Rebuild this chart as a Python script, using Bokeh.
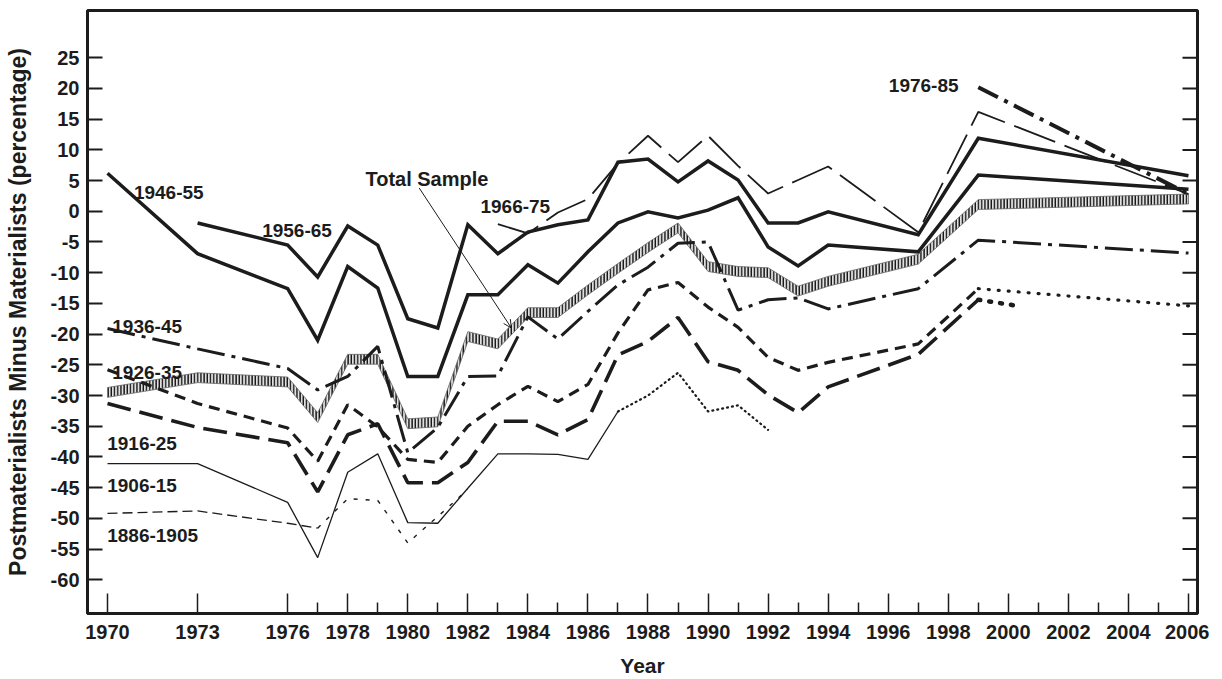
from bokeh.plotting import figure
from bokeh.models import Range1d, FixedTicker, Arrow, OpenHead
from bokeh.core.properties import value
from bokeh.embed import file_html
from bokeh.resources import INLINE

# ---------------- data ----------------
survey_years = [1970, 1973, 1976, 1977, 1978, 1979, 1980, 1981, 1982, 1983, 1984, 1985,
                1986, 1987, 1988, 1989, 1990, 1991, 1992, 1993, 1994, 1997, 1999, 2006]

total_sample = [-29.5, -27.1, -27.8, -33.6, -24.1, -24.1, -34.6, -34.3, -20.4, -21.6, -16.5, -16.5,
                -12.8, -9.3, -5.9, -2.7, -9.0, -9.8, -10.0, -13.0, -11.4, -7.8, 1.1, 2.0]

cohort_1946_55 = [6.2, -6.9, -12.6, -21.0, -9.0, -12.5, -26.9, -26.9, -13.6, -13.6, -8.7, -11.7,
                  -6.6, -1.9, -0.1, -1.1, 0.2, 2.2, -5.8, -8.9, -5.5, -6.6, 5.9, 3.6]

cohort_1936_45 = [-19.1, -22.4, -25.6, -29.1, -26.9, -22.0, -39.3, -35.2, -26.9, -26.8, -17.2, -20.8,
                  -16.3, -12.0, -9.1, -5.2, -5.0, -16.1, -14.4, -14.1, -15.9, -12.6, -4.7, -6.8]

years_1956_65 = survey_years[1:]
cohort_1956_65 = [-1.9, -5.5, -10.7, -2.4, -5.5, -17.5, -19.0, -2.2, -6.9, -3.4, -2.2, -1.4,
                  8.0, 8.5, 4.8, 8.2, 5.1, -1.9, -1.9, -0.1, -3.8, 11.9, 5.8]

years_1966_75 = [1983, 1984, 1985, 1986, 1987, 1988, 1989, 1990, 1991, 1992, 1993, 1994, 1997, 1999, 2006]
cohort_1966_75 = [-2.1, -3.6, -0.2, 2.0, 7.8, 12.3, 8.0, 12.3, 7.4, 2.9, 5.1, 7.3, -3.4, 16.2, 2.8]

years_1976_85 = [1999, 2006]
cohort_1976_85 = [20.2, 2.8]

years_to_1999 = survey_years[:23]
cohort_1926_35 = [-25.8, -31.3, -35.3, -40.7, -31.5, -35.1, -40.4, -40.9, -35.0, -31.5, -28.5, -31.0,
                  -28.2, -19.8, -12.8, -11.6, -15.6, -18.9, -23.8, -25.9, -24.6, -21.6, -12.6]
years_1926_35_ext = [1999, 2006]
cohort_1926_35_ext = [-12.6, -15.4]

cohort_1916_25 = [-31.3, -35.2, -37.7, -45.7, -36.4, -34.6, -44.2, -44.2, -40.9, -34.2, -34.2, -36.4,
                  -33.9, -23.4, -21.2, -17.3, -24.5, -25.9, -29.9, -32.8, -28.6, -23.3, -14.4]
years_1916_25_ext = [1999, 2000.3]
cohort_1916_25_ext = [-14.4, -15.4]

years_1906_15 = survey_years[:14]
cohort_1906_15 = [-41.1, -41.1, -47.4, -56.4, -42.5, -39.5, -50.7, -50.8, -45.1, -39.5, -39.5, -39.6,
                  -40.4, -32.6]
years_1906_15_ext = [1987, 1988, 1989, 1990, 1991, 1992]
cohort_1906_15_ext = [-32.6, -30.0, -26.3, -32.6, -31.6, -35.6]

years_1886_1905 = survey_years[:9]
cohort_1886_1905 = [-49.2, -48.8, -50.8, -51.6, -46.8, -47.1, -54.0, -49.7, -45.3]

x_major_ticks = [1970, 1973, 1976] + list(range(1978, 2007, 2))
x_minor_ticks = list(range(1977, 2006, 2))
y_ticks = list(range(-60, 30, 5))

label_texts = ["1946-55", "1956-65", "1966-75", "1976-85", "1936-45", "1926-35",
               "1916-25", "1906-15", "1886-1905"]
label_x = [1970.88, 1975.15, 1982.42, 1996.02, 1970.16, 1970.16, 1969.99, 1969.99, 1969.99]
label_y = [3.1, -3.1, 0.7, 20.5, -18.8, -26.2, -37.8, -44.6, -52.8]

# ---------------- figure ----------------
FONT = "Liberation Sans"
INK = "#1c1c1c"
X0, X1 = 1969.334, 2006.30
Y0, Y1 = -65.5, 32.7
FRAME_W, FRAME_H = 1110, 603

p = figure(frame_width=FRAME_W, frame_height=FRAME_H,
           x_range=Range1d(X0, X1), y_range=Range1d(Y0, Y1),
           output_backend="svg", toolbar_location=None,
           min_border_left=87, min_border_right=12, min_border_top=10, min_border_bottom=60,
           x_axis_label="Year",
           y_axis_label="Postmaterialists Minus Materialists (percentage)")
p.xgrid.visible = False
p.ygrid.visible = False
p.outline_line_color = INK
p.outline_line_width = 3
p.background_fill_color = "white"
p.border_fill_color = "white"

xa = p.xaxis[0]
xa.ticker = FixedTicker(ticks=x_major_ticks, minor_ticks=x_minor_ticks)
xa.major_label_overrides = {t: str(t) for t in x_major_ticks}
xa.major_tick_in = 20
xa.major_tick_out = 0
xa.minor_tick_in = 11
xa.minor_tick_out = 0
xa.major_tick_line_width = 1.5
xa.minor_tick_line_width = 1.5
xa.major_tick_line_color = INK
xa.minor_tick_line_color = INK
xa.axis_line_width = 3
xa.axis_line_color = INK
xa.major_label_text_font = FONT
xa.major_label_text_font_style = "bold"
xa.major_label_text_font_size = "20px"
xa.major_label_text_color = INK
xa.major_label_standoff = 11
xa.axis_label_text_font = FONT
xa.axis_label_text_font_style = "bold"
xa.axis_label_text_font_size = "21px"
xa.axis_label_text_color = INK
xa.axis_label_standoff = 12

ya = p.yaxis[0]
ya.ticker = FixedTicker(ticks=y_ticks)
ya.major_label_overrides = {t: str(t) for t in y_ticks}
ya.major_tick_in = 15
ya.major_tick_out = 0
ya.minor_tick_line_color = None
ya.major_tick_line_width = 2
ya.major_tick_line_color = INK
ya.axis_line_width = 3
ya.axis_line_color = INK
ya.major_label_text_font = FONT
ya.major_label_text_font_style = "bold"
ya.major_label_text_font_size = "20px"
ya.major_label_text_color = INK
ya.major_label_standoff = 8
ya.axis_label_text_font = FONT
ya.axis_label_text_font_style = "bold"
ya.axis_label_text_font_size = "23px"
ya.axis_label_text_color = INK
ya.axis_label_standoff = 17

# inward tick marks on the right frame edge (same ticks as the left axis)
tick_len = 15 * (X1 - X0) / FRAME_W
p.segment(x0=[X1 - tick_len] * len(y_ticks), y0=y_ticks, x1=[X1] * len(y_ticks), y1=y_ticks,
          line_color=INK, line_width=2)

# Total sample: hatched band
band_half = 0.8
band_x = survey_years + survey_years[::-1]
band_y = [v + band_half for v in total_sample] + [v - band_half for v in total_sample[::-1]]
p.patch(band_x, band_y, fill_color="#e0e0e0", line_color="#666666", line_width=0.8,
        hatch_pattern="vertical_line", hatch_color="#111111", hatch_scale=3.2, hatch_weight=1.5)

# cohort lines
p.line(survey_years, cohort_1946_55, line_color=INK, line_width=3.5, line_join="miter")
p.line(years_1956_65, cohort_1956_65, line_color=INK, line_width=3.5, line_join="miter")
p.line(years_1966_75, cohort_1966_75, line_color=INK, line_width=1.8, line_dash="44 10")
p.line(years_1976_85, cohort_1976_85, line_color=INK, line_width=4, line_dash="22 7 4 7")
p.line(survey_years, cohort_1936_45, line_color=INK, line_width=3, line_dash="28 7 4 7")
p.line(years_to_1999, cohort_1926_35, line_color=INK, line_width=3.2, line_dash="11 7")
p.line(years_1926_35_ext, cohort_1926_35_ext, line_color=INK, line_width=3.2,
       line_dash="1 9", line_cap="round")
p.line(years_to_1999, cohort_1916_25, line_color=INK, line_width=3.6, line_dash="24 9")
p.line(years_1916_25_ext, cohort_1916_25_ext, line_color=INK, line_width=4.5,
       line_dash="2 9", line_cap="round")
p.line(years_1906_15, cohort_1906_15, line_color=INK, line_width=1.3)
p.line(years_1906_15_ext, cohort_1906_15_ext, line_color=INK, line_width=2.2,
       line_dash="1 4", line_cap="round")
p.line(years_1886_1905[:4], cohort_1886_1905[:4], line_color=INK, line_width=1.3, line_dash="10 5")
p.line(years_1886_1905[3:], cohort_1886_1905[3:], line_color=INK, line_width=1.4, line_dash="4 8")

# labels
p.text(x=label_x, y=label_y, text=label_texts, text_font=value(FONT), text_font_style="bold",
       text_font_size="19px", text_color=INK, text_baseline="alphabetic", text_align="left")
p.text(x=[1978.59], y=[5.3], text=["Total Sample"], text_font=value(FONT), text_font_style="bold",
       text_font_size="20px", text_color=INK, text_baseline="alphabetic", text_align="left")

# Total Sample pointer
p.add_layout(Arrow(end=OpenHead(size=8, line_width=1, line_color=INK),
                   x_start=1980.38, y_start=3.8, x_end=1983.45, y_end=-19.0,
                   line_width=1, line_color=INK))

open("out.html", "w").write(file_html(p, INLINE))
